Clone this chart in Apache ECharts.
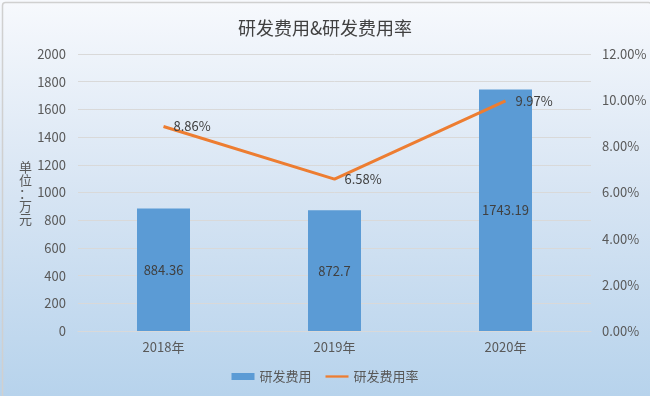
<!DOCTYPE html>
<html><head><meta charset="utf-8">
<script src="https://cdn.jsdelivr.net/npm/echarts@6/dist/echarts.min.js"></script>
<style>html,body{margin:0;padding:0;background:#fff}#c{width:650px;height:396px}</style>
</head><body><div id="c"></div>
<script>
const categories = ['2018年', '2019年', '2020年'];
const rdExpense = [884.36, 872.7, 1743.19];
const rdRate = [8.86, 6.58, 9.97];
const leftTicks = [0, 200, 400, 600, 800, 1000, 1200, 1400, 1600, 1800, 2000];
const rightTicks = [0, 2, 4, 6, 8, 10, 12];
const title = '研发费用&研发费用率';
const unitLabel = '单位：万元';
const seriesNames = ['研发费用', '研发费用率'];

const font = '"Microsoft YaHei","Noto Sans CJK SC",sans-serif';
const chart = echarts.init(document.getElementById('c'), null, {renderer: 'canvas'});
chart.setOption({
  backgroundColor: {
    type: 'linear', x: 0, y: 0, x2: 0, y2: 1,
    colorStops: [{offset: 0, color: '#f7f9fd'}, {offset: 0.5, color: '#d6e4f3'}, {offset: 1, color: '#b7d3ec'}]
  },
  animation: false,
  title: {
    text: title, left: 'center', top: 14,
    textStyle: {fontFamily: font, fontSize: 18, fontWeight: 'normal', color: '#404040'}
  },
  graphic: [
    {type: 'rect', left: 0, top: 0, shape: {width: 649, height: 395, r: 3}, style: {fill: 'none', stroke: '#d0d0d0', lineWidth: 1.5}, silent: true},
    {type: 'text', left: 19, top: 161, style: {text: unitLabel.split('').join('\n'), fontFamily: font, fontSize: 13, fill: '#595959', lineHeight: 13, align: 'center'}}
  ],
  legend: {
    bottom: 8, left: 'center', itemGap: 14, itemWidth: 23, itemHeight: 7,
    textStyle: {fontFamily: font, fontSize: 13, color: '#595959'},
    data: [
      {name: seriesNames[0], icon: 'rect'},
      {name: seriesNames[1], icon: 'path://M0,0 L30,0 L30,3 L0,3 Z', itemStyle: {color: '#ed7d31', opacity: 1}}
    ]
  },
  grid: {left: 78, right: 59, top: 54, bottom: 65},
  xAxis: {
    type: 'category', data: categories,
    axisLine: {lineStyle: {color: '#d9d9d9'}},
    axisTick: {show: false},
    axisLabel: {fontFamily: font, fontSize: 13, color: '#595959', margin: 10}
  },
  yAxis: [{
    type: 'value', min: leftTicks[0], max: leftTicks[leftTicks.length - 1], interval: 200,
    axisLine: {show: false}, axisTick: {show: false},
    splitLine: {lineStyle: {color: '#d9d9d9'}},
    axisLabel: {fontFamily: font, fontSize: 13, color: '#595959', margin: 12, formatter: v => String(v)}
  }, {
    type: 'value', min: rightTicks[0], max: rightTicks[rightTicks.length - 1], interval: 2,
    axisLine: {show: false}, axisTick: {show: false}, splitLine: {show: false},
    axisLabel: {fontFamily: font, fontSize: 13, color: '#595959', margin: 11, formatter: v => v.toFixed(2) + '%'}
  }],
  series: [{
    name: seriesNames[0], type: 'bar', data: rdExpense, barWidth: 53,
    itemStyle: {color: '#5b9bd5'},
    label: {show: true, position: 'inside', fontFamily: font, fontSize: 13, color: '#404040', formatter: p => String(p.value)}
  }, {
    name: seriesNames[1], type: 'line', yAxisIndex: 1, data: rdRate,
    symbol: 'circle', symbolSize: 0.01, showSymbol: true,
    lineStyle: {color: '#ed7d31', width: 3}, itemStyle: {color: '#ed7d31'},
    label: {show: true, position: 'right', distance: 10, fontFamily: font, fontSize: 13, color: '#404040', formatter: p => p.value.toFixed(2) + '%'}
  }]
});
</script></body></html>
